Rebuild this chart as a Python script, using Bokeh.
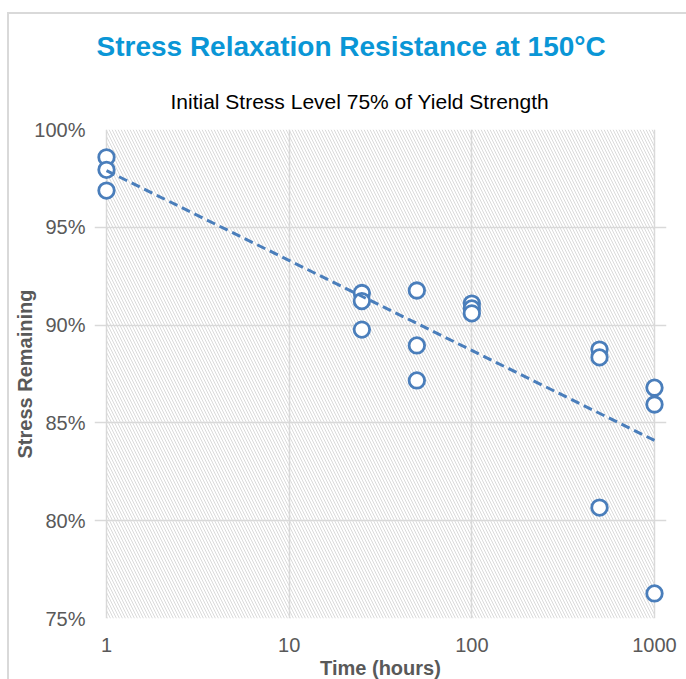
import numpy as np
from bokeh.plotting import figure
from bokeh.models import (Title, FixedTicker, PrintfTickFormatter, BoxAnnotation,
                          Range1d, ColumnDataSource)
from bokeh.embed import file_html
from bokeh.resources import INLINE

# ---- data ----
time_hours = [1, 1, 1, 25, 25, 25, 50, 50, 50, 100, 100, 100,
              500, 500, 500, 1000, 1000, 1000]
stress_remaining = [98.58, 97.94, 96.88, 91.64, 91.23, 89.77, 91.77, 88.96, 87.17,
                    91.1, 90.85, 90.6, 88.75, 88.35, 80.67, 86.8, 85.94, 76.28]
x_ticks = [1, 10, 100, 1000]
y_ticks = [75, 80, 85, 90, 95, 100]
x_min, x_max = 1, 1000
y_min, y_max = 75, 100

title_text = "Stress Relaxation Resistance at 150°C"
subtitle_text = "Initial Stress Level 75% of Yield Strength"
x_label = "Time (hours)"
y_label = "Stress Remaining"

BLUE = "#4A7EBB"
GRID = "#d9d9d9"
TXT = "#595959"

# small padding (in decades) so markers at the edges are not clipped
PLOT_W = 548
PAD_PX = 12
pad = PAD_PX * np.log10(x_max / x_min) / PLOT_W

border_css = (":host::after { content: ''; position: absolute; left: 7px; top: 12px; "
              "right: 0; bottom: 0; border-left: 2px solid #d9d9d9; "
              "border-top: 2px solid #d9d9d9; pointer-events: none; }")

p = figure(frame_width=PLOT_W + 2 * PAD_PX, frame_height=489, x_axis_type="log",
           x_range=Range1d(x_min * 10 ** (-pad), x_max * 10 ** pad),
           y_range=Range1d(y_min, y_max),
           output_backend="svg", toolbar_location=None, title=None,
           min_border_left=106 - PAD_PX, min_border_right=32 - PAD_PX,
           min_border_top=129, min_border_bottom=61,
           stylesheets=[border_css])

# hatched plot-area background (only over the axis limits)
bg = BoxAnnotation(left=x_min, right=x_max, bottom=y_min, top=y_max,
                   fill_color="white", fill_alpha=1.0, line_color=None,
                   hatch_pattern="\\", hatch_color="#dadada", hatch_weight=1,
                   hatch_scale=6, level="image")
p.add_layout(bg)

# titles (first added is nearest to the frame)
sub = Title(text=subtitle_text, align="left", text_font="Liberation Sans",
            text_font_size="21px", text_font_style="normal", text_color="#000000",
            standoff=34, offset=64 + PAD_PX)
p.add_layout(sub, "above")
main = Title(text=title_text, align="left", text_font="Liberation Sans",
             text_font_size="28px", text_font_style="bold", text_color="#0A96D6",
             standoff=18, offset=-10 + PAD_PX)
p.add_layout(main, "above")

# axes
for ax in (p.xaxis[0], p.yaxis[0]):
    ax.axis_line_color = None
    ax.major_tick_line_color = None
    ax.minor_tick_line_color = None
    ax.major_label_text_font = "Liberation Sans"
    ax.major_label_text_font_size = "20px"
    ax.major_label_text_color = TXT
    ax.axis_label_text_font = "Liberation Sans"
    ax.axis_label_text_font_size = "20px"
    ax.axis_label_text_font_style = "bold"
    ax.axis_label_text_color = TXT

p.xaxis.ticker = FixedTicker(ticks=x_ticks, minor_ticks=[])
p.xaxis.formatter = PrintfTickFormatter(format="%d")
p.xaxis.axis_label = x_label
p.xaxis.major_label_standoff = 13
p.xaxis.axis_label_standoff = 2

p.yaxis.ticker = FixedTicker(ticks=y_ticks, minor_ticks=[])
p.yaxis.formatter = PrintfTickFormatter(format="%d%%")
p.yaxis.axis_label = y_label
p.yaxis.major_label_standoff = 3
p.yaxis.axis_label_standoff = -5

p.xgrid.ticker = FixedTicker(ticks=x_ticks, minor_ticks=[])
p.ygrid.ticker = FixedTicker(ticks=y_ticks, minor_ticks=[])
p.xgrid.bounds = (y_min, y_max)
p.ygrid.bounds = (x_min, x_max)
for g in (p.xgrid[0], p.ygrid[0]):
    g.grid_line_color = GRID
    g.grid_line_width = 1.5
    g.minor_grid_line_color = None

p.outline_line_color = None
p.background_fill_color = "white"
p.border_fill_color = "white"

# logarithmic trend line (least squares on log10 of time)
lx = np.log10(np.array(time_hours, dtype=float))
slope, intercept = np.polyfit(lx, np.array(stress_remaining), 1)
tx = np.array([min(time_hours), max(time_hours)], dtype=float)
ty = intercept + slope * np.log10(tx)

src = ColumnDataSource(dict(x=time_hours, y=stress_remaining))
p.scatter("x", "y", source=src, marker="circle", size=15.5,
          line_color=BLUE, line_width=2.8, fill_color="white", fill_alpha=1.0)
p.line(tx, ty, line_color=BLUE, line_width=3, line_dash="9 5")

open("out.html", "w").write(file_html(p, INLINE))
